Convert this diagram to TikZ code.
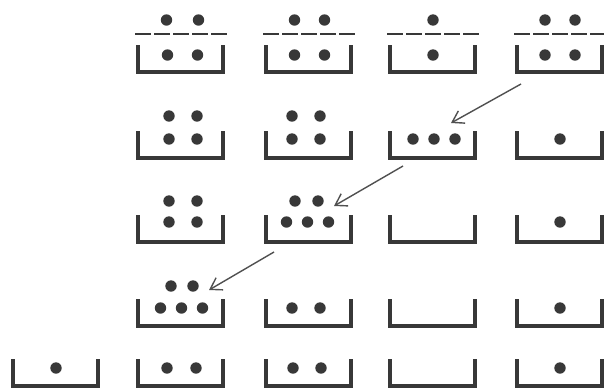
\documentclass[tikz,border=0pt]{standalone}
\usetikzlibrary{arrows.meta}
\definecolor{ink}{HTML}{383838}
\definecolor{arrowink}{HTML}{505050}
\tikzset{
  pitline/.style={ink, line width=3.4pt, line join=miter, line cap=butt},
  seed/.style={fill=ink},
  lid/.style={ink, line width=1.8pt, dash pattern=on 15.6pt off 3.5pt},
  move/.style={arrowink, line width=1.4pt, -{Straight Barb[length=11pt,width=14pt,line width=1.4pt]}},
}
% pit: name, left x, bottom y
\newcommand\pit[3]{%
  \draw[pitline] (#2,#3-27) -- (#2,#3) -- (#2+85,#3) -- (#2+85,#3-27);
  \coordinate (#1) at (#2+42.5,#3);}
\newcommand\onedot[2]{\fill[seed] (#1,#2) circle[radius=5.7pt];}
\newcommand\twodots[3]{\fill[seed] (#1-#3,#2) circle[radius=5.7pt] (#1+#3,#2) circle[radius=5.7pt];}
\newcommand\threedots[2]{\fill[seed] (#1-21,#2) circle[radius=5.7pt] (#1,#2) circle[radius=5.7pt] (#1+21,#2) circle[radius=5.7pt];}
\begin{document}
\begin{tikzpicture}[x=1pt,y=-1pt]
\useasboundingbox (0,0) rectangle (604,389);
% ---- row 1
\pit{p12}{138}{72} \pit{p13}{266}{72} \pit{p14}{390}{72} \pit{p15}{517}{72}
\foreach \l in {138,266,390,517} {\draw[lid] (\l-3,34) -- (\l+89,34);}
\twodots{182.5}{20}{16} \twodots{182.5}{55}{15}
\twodots{309.5}{20}{15} \twodots{309.5}{55}{15}
\onedot{433}{20} \onedot{433}{55}
\twodots{560}{20}{15} \twodots{560}{55}{15}
% ---- row 2
\pit{p22}{138}{158} \pit{p23}{266}{158} \pit{p24}{390}{158} \pit{p25}{517}{158}
\twodots{183}{116}{14} \twodots{183}{139}{14}
\twodots{306}{116}{14} \twodots{306}{139}{14}
\threedots{434}{139}
\onedot{560}{139}
% ---- row 3
\pit{p32}{138}{242} \pit{p33}{266}{242} \pit{p34}{390}{242} \pit{p35}{517}{242}
\twodots{183}{201}{14} \twodots{183}{222}{14}
\twodots{306.5}{201}{11.5} \threedots{307.5}{222}
\onedot{560}{222}
% ---- row 4
\pit{p42}{138}{326} \pit{p43}{266}{326} \pit{p44}{390}{326} \pit{p45}{517}{326}
\twodots{182}{286}{11} \threedots{181.5}{308}
\twodots{306}{308}{14}
\onedot{560}{308}
% ---- row 5
\pit{p51}{13}{386} \pit{p52}{138}{386} \pit{p53}{266}{386} \pit{p54}{390}{386} \pit{p55}{517}{386}
\onedot{56}{368}
\twodots{181.5}{368}{14.5}
\twodots{307}{368}{14}
\onedot{560}{368}
% ---- moves
\coordinate (m1s) at (521,84);  \coordinate (m1e) at (451,123);
\coordinate (m2s) at (403,166); \coordinate (m2e) at (334,206);
\coordinate (m3s) at (274,252); \coordinate (m3e) at (209,290);
\draw[move] (m1s) -- (m1e);
\draw[move] (m2s) -- (m2e);
\draw[move] (m3s) -- (m3e);
\end{tikzpicture}
\end{document}
